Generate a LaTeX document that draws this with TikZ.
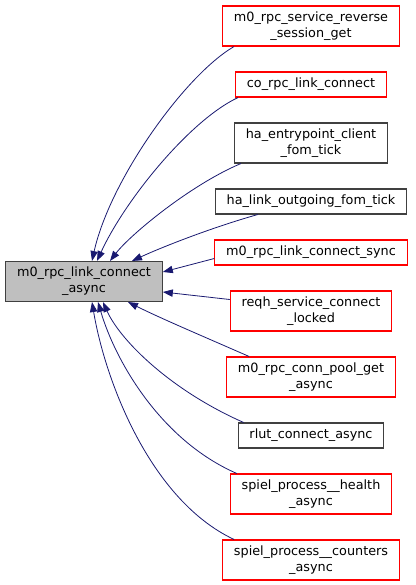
\documentclass[tikz,border=0pt]{standalone}
\usepackage{fontspec}
\setmainfont{DejaVu Sans}
\usepackage{xcolor}
\usetikzlibrary{arrows.meta,positioning,calc}
\definecolor{edgeblue}{HTML}{191970}
\definecolor{boxgray}{HTML}{BFBFBF}
\definecolor{boxline}{HTML}{404040}

\begin{document}
\begin{tikzpicture}[x=0.75pt, y=-0.75pt, node distance=18.7pt,
  fn/.style={rectangle, draw=boxline, fill=white, line width=0.8pt, align=center, inner xsep=8.5pt, inner ysep=1pt, minimum height=18.75pt, font=\fontsize{9.6}{12}\selectfont},
  trunc/.style={fn, draw=red},
  two/.style={minimum height=30pt},
  current/.style={fn, fill=boxgray, two},
  edge/.style={draw=edgeblue, line width=0.6pt, -{Triangle[length=7.5pt,width=5.5pt]}}]
  \useasboundingbox (0,0) rectangle (415,585);

  % Called function
  \node [current] (main) at (84,281.5) {m0\_rpc\_link\_connect\\\_async};

  % Callers
  \node [trunc, two] (revget) at (311,26) {m0\_rpc\_service\_reverse\\\_session\_get};
  \node [trunc, below=of revget] (colink) {co\_rpc\_link\_connect};
  \node [fn, two, below=of colink] (haentry) {ha\_entrypoint\_client\\\_fom\_tick};
  \node [fn, below=of haentry] (haout) {ha\_link\_outgoing\_fom\_tick};
  \node [trunc, below=of haout] (linksync) {m0\_rpc\_link\_connect\_sync};
  \node [trunc, two, below=of linksync] (reqh) {reqh\_service\_connect\\\_locked};
  \node [trunc, two, below=of reqh] (pool) {m0\_rpc\_conn\_pool\_get\\\_async};
  \node [fn, below=of pool] (rlut) {rlut\_connect\_async};
  \node [trunc, two, below=of rlut] (health) {spiel\_process\_\_health\\\_async};
  \node [trunc, two, below=of health] (counters) {spiel\_process\_\_counters\\\_async};

  % Connectors
  \path [edge] ($(revget.south west)+(12,0)$) .. controls (185,75) and (110,180) .. ($(main.north)+(8,0)$);
  \path [edge] ($(colink.south west)+(3,0)$) .. controls (190,120) and (125,200) .. ($(main.north)+(13,0)$);
  \path [edge] ($(haentry.south west)+(7,0)$) .. controls (190,185) and (130,235) .. ($(main.north)+(26,0)$);
  \path [edge] ($(haout.south west)+(43,0)$) .. controls (210,228) and (160,248) .. ($(main.north)+(48,0)$);
  \path [edge] ($(linksync.west)+(0,6)$) -- ($(main.east)+(0,-9.5)$);
  \path [edge] ($(reqh.west)+(0,-11.5)$) -- ($(main.east)+(0,10.5)$);
  \path [edge] ($(pool.north west)+(23,0)$) .. controls (200,335) and (160,318) .. ($(main.south)+(44,0)$);
  \path [edge] ($(rlut.north west)+(6,0)$) .. controls (170,390) and (120,340) .. ($(main.south)+(19,0)$);
  \path [edge] ($(health.north west)+(7,0)$) .. controls (160,440) and (115,360) .. ($(main.south)+(14,0)$);
  \path [edge] ($(counters.north west)+(12,0)$) .. controls (150,500) and (105,380) .. ($(main.south)+(8,0)$);
\end{tikzpicture}
\end{document}
